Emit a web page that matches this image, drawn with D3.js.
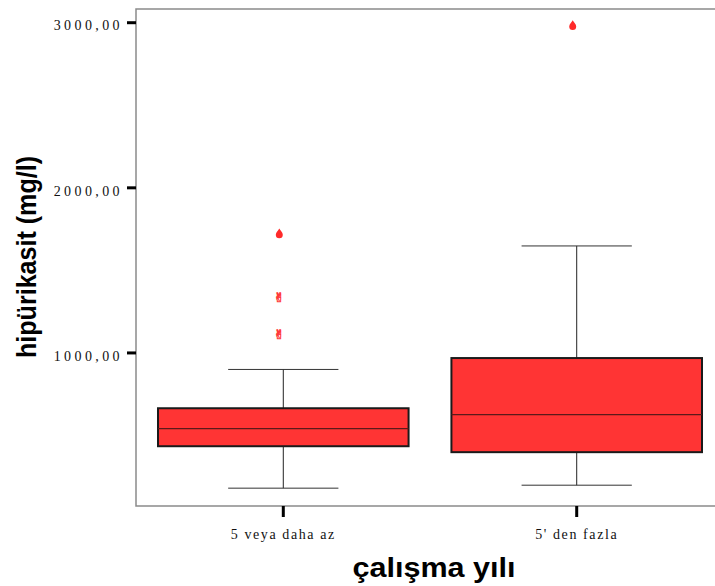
<!DOCTYPE html>
<html>
<head>
<meta charset="utf-8">
<script src="https://cdn.jsdelivr.net/npm/d3@7"></script>
<style>
  body { margin: 0; background: #fff; }
  svg { display: block; }
</style>
</head>
<body>
<div id="chart"></div>
<script>
// groups on the x axis
var categories = ["5 veya daha az", "5' den fazla"];
// box stats (mg/l)
var lowWhisker = [178, 196];
var q1 = [432, 396];
var medians = [539, 624];
var q3 = [662, 966];
var highWhisker = [897, 1645];
// outliers (drawn as filled drops) and extremes (drawn as glyphs)
var outliers = [[1720], [2982]];
var extremes = [[1338, 1109], []];
var yTicks = [1000, 2000, 3000];

var width = 715, height = 586;
// plot frame
var frame = {left: 136, top: 9, right: 724, bottom: 506};

var svg = d3.select("#chart").append("svg")
    .attr("width", width)
    .attr("height", height);

var x = d3.scaleBand()
    .domain(categories)
    .range([frame.left, frame.right])
    .paddingInner(0.146)
    .paddingOuter(0.075);

var y = d3.scaleLinear()
    .domain([70, 3080])
    .range([frame.bottom, frame.top]);

var boxFill = "#ff3434";

// frame
svg.append("rect")
    .attr("x", frame.left)
    .attr("y", frame.top)
    .attr("width", frame.right - frame.left)
    .attr("height", frame.bottom - frame.top)
    .attr("fill", "none")
    .attr("stroke", "#8a8a8a")
    .attr("stroke-width", 1.5);

var bw = x.bandwidth();
var capHalf = bw * 0.22;

var groups = svg.selectAll(".box")
    .data(categories)
    .enter().append("g")
    .attr("class", "box");

groups.each(function(c, i) {
    var g = d3.select(this);
    var cx = x(c) + bw / 2;

    // whisker stems
    g.append("line")
        .attr("x1", cx).attr("x2", cx)
        .attr("y1", y(q3[i])).attr("y2", y(highWhisker[i]))
        .attr("stroke", "#222").attr("stroke-width", 1);
    g.append("line")
        .attr("x1", cx).attr("x2", cx)
        .attr("y1", y(q1[i])).attr("y2", y(lowWhisker[i]))
        .attr("stroke", "#222").attr("stroke-width", 1);
    // caps
    [lowWhisker[i], highWhisker[i]].forEach(function(v) {
        g.append("line")
            .attr("x1", cx - capHalf).attr("x2", cx + capHalf)
            .attr("y1", y(v)).attr("y2", y(v))
            .attr("stroke", "#333").attr("stroke-width", 1);
    });
    // box
    g.append("rect")
        .attr("x", x(c))
        .attr("y", y(q3[i]))
        .attr("width", bw)
        .attr("height", y(q1[i]) - y(q3[i]))
        .attr("fill", boxFill)
        .attr("stroke", "#1a1a1a")
        .attr("stroke-width", 2);
    // median
    g.append("line")
        .attr("x1", x(c)).attr("x2", x(c) + bw)
        .attr("y1", y(medians[i])).attr("y2", y(medians[i]))
        .attr("stroke", "#5a1a1a").attr("stroke-width", 1.2);

    // outliers as small drops
    outliers[i].forEach(function(v) {
        g.append("path")
            .attr("transform", "translate(" + (cx - 4) + "," + y(v) + ")")
            .attr("d", "M0,-5 C1,-3 3.5,-1 3.5,1.2 A3.5,3.5 0 1 1 -3.5,1.2 C-3.5,-1 -1,-3 0,-5 Z")
            .attr("fill", "#ff2a2a");
    });
    // extremes as glyphs
    extremes[i].forEach(function(v) {
        g.append("text")
            .attr("x", cx - 4)
            .attr("y", y(v) + 5)
            .attr("text-anchor", "middle")
            .style("font-family", "DejaVu Sans")
            .style("font-size", "13px")
            .attr("fill", "none")
            .attr("stroke", "#ff3a3a")
            .attr("stroke-width", 0.7)
            .text("\u270C");
    });
});

// Y axis
var yAxis = svg.append("g")
    .attr("transform", "translate(" + frame.left + ",0)")
    .call(d3.axisLeft(y)
        .tickValues(yTicks)
        .tickSize(9)
        .tickPadding(4)
        .tickFormat(function(d) { return d3.format(".2f")(d).replace(".", ","); }));
yAxis.select(".domain").remove();
yAxis.selectAll(".tick line")
    .attr("stroke", "#000")
    .attr("stroke-width", 3);
yAxis.selectAll(".tick text")
    .attr("dy", "0.55em")
    .style("font-family", "Liberation Serif")
    .style("font-size", "14px")
    .style("letter-spacing", "3.4px")
    .attr("fill", "#111");

// X axis
var xAxis = svg.append("g")
    .attr("transform", "translate(0," + frame.bottom + ")")
    .call(d3.axisBottom(x).tickSize(11).tickPadding(12));
xAxis.select(".domain").remove();
xAxis.selectAll(".tick line")
    .attr("stroke", "#000")
    .attr("stroke-width", 3);
xAxis.selectAll(".tick text")
    .style("font-family", "Liberation Serif")
    .style("font-size", "14px")
    .style("letter-spacing", "1.6px")
    .attr("fill", "#111");

// axis titles
svg.append("text")
    .attr("x", 434)
    .attr("y", 577)
    .attr("text-anchor", "middle")
    .style("font-family", "Liberation Sans")
    .style("font-weight", "bold")
    .style("font-size", "27px")
    .attr("textLength", 163)
    .attr("lengthAdjust", "spacingAndGlyphs")
    .text("çalışma yılı");

svg.append("text")
    .attr("transform", "translate(36,257) rotate(-90)")
    .attr("text-anchor", "middle")
    .style("font-family", "Liberation Sans")
    .style("font-weight", "bold")
    .style("font-size", "27px")
    .attr("textLength", 202)
    .attr("lengthAdjust", "spacingAndGlyphs")
    .text("hipürikasit (mg/l)");
</script>
</body>
</html>
